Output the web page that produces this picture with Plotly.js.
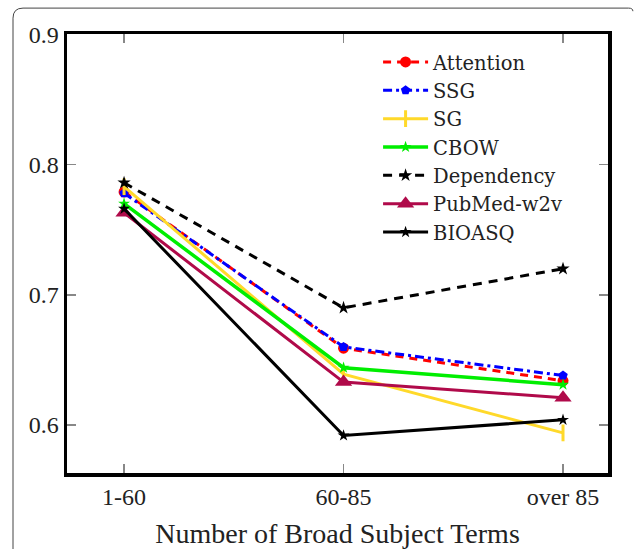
<!DOCTYPE html>
<html>
<head>
<meta charset="utf-8">
<script src="https://cdn.plot.ly/plotly-3.0.1.min.js"></script>
<style>html,body{margin:0;padding:0;background:#fff;}#chart{width:634px;height:549px;}</style>
</head>
<body>
<div id="chart"></div>
<script>
const categories = ['1-60', '60-85', 'over 85'];
const seriesNames = ['Attention', 'SSG', 'SG', 'CBOW', 'Dependency', 'PubMed-w2v', 'BIOASQ'];
const attention  = [0.779, 0.659, 0.634];
const ssg        = [0.778, 0.660, 0.638];
const sg         = [0.783, 0.639, 0.594];
const cbow       = [0.770, 0.644, 0.631];
const dependency = [0.786, 0.690, 0.720];
const pubmed     = [0.763, 0.633, 0.621];
const bioasq     = [0.766, 0.592, 0.604];
const yTicks = [0.6, 0.7, 0.8, 0.9];
const xTitle = 'Number of Broad Subject Terms';

const values = [attention, ssg, sg, cbow, dependency, pubmed, bioasq];
const styles = [
  {color:'#FF0000', width:3, dash:'8px,6px', symbol:'circle', size:11},
  {color:'#0000FF', width:3, dash:'9px,4px,3px,4px', symbol:'pentagon', size:10},
  {color:'#FFD92A', width:3, dash:'solid', symbol:'line-ns-open', size:12},
  {color:'#00EE00', width:3.5, dash:'solid', symbol:'star', size:9},
  {color:'#000000', width:3, dash:'9px,7px', symbol:'star', size:10},
  {color:'#B00A4A', width:3, dash:'solid', symbol:'triangle-up', size:15},
  {color:'#000000', width:3, dash:'solid', symbol:'star', size:9}
];

const traces = values.map((v, i) => ({
  x: categories, y: v, name: seriesNames[i], type: 'scatter', mode: 'lines+markers',
  line: {color: styles[i].color, width: styles[i].width, dash: styles[i].dash},
  marker: {color: styles[i].color, symbol: styles[i].symbol, size: styles[i].size,
           line: {color: styles[i].color, width: styles[i].symbol === 'line-ns-open' ? 3 : 0}}
}));

const fontFam = '"Liberation Serif", "DejaVu Serif", serif';
const legFam = '"DejaVu Serif", "Liberation Serif", serif';
const layout = {
  width: 634, height: 549,
  margin: {l: 67, r: 26, t: 34, b: 76},
  paper_bgcolor: '#fff', plot_bgcolor: '#fff',
  font: {family: fontFam, size: 24, color: '#222'},
  showlegend: true,
  legend: {x: 0.575, y: 0.98, xanchor: 'left', yanchor: 'top', bgcolor: 'rgba(0,0,0,0)',
           font: {family: legFam, size: 19.5, color: '#222'}, itemwidth: 45, tracegroupgap: 0},
  xaxis: {type: 'category', range: [-0.26, 2.205], showgrid: false, zeroline: false,
          showline: true, linecolor: '#000', linewidth: 3.5, mirror: 'ticks',
          ticks: 'inside', ticklen: 9, tickwidth: 1.5, tickcolor: '#888',
          tickfont: {family: fontFam, size: 24, color: '#222'},
          title: {text: xTitle, font: {family: fontFam, size: 28, color: '#222'}, standoff: 17}},
  yaxis: {range: [0.5632, 0.9002], tickvals: yTicks, ticktext: yTicks.map(t => t.toFixed(1)),
          showgrid: false, zeroline: false,
          showline: true, linecolor: '#000', linewidth: 3.5, mirror: 'ticks',
          ticks: 'inside', ticklen: 9, tickwidth: 1.5, tickcolor: '#888',
          tickfont: {family: fontFam, size: 24, color: '#222'}},
  shapes: [{type: 'path', xref: 'paper', yref: 'paper', layer: 'below',
            path: 'M -0.0998,-0.3 L -0.0998,1.036 Q -0.0998,1.059 -0.0813,1.059 L 1.038,1.059 Q 1.046,1.059 1.046,1.052',
            line: {color: '#444', width: 1}}]
};

Plotly.newPlot('chart', traces, layout, {displayModeBar: false, staticPlot: true});
</script>
</body>
</html>
